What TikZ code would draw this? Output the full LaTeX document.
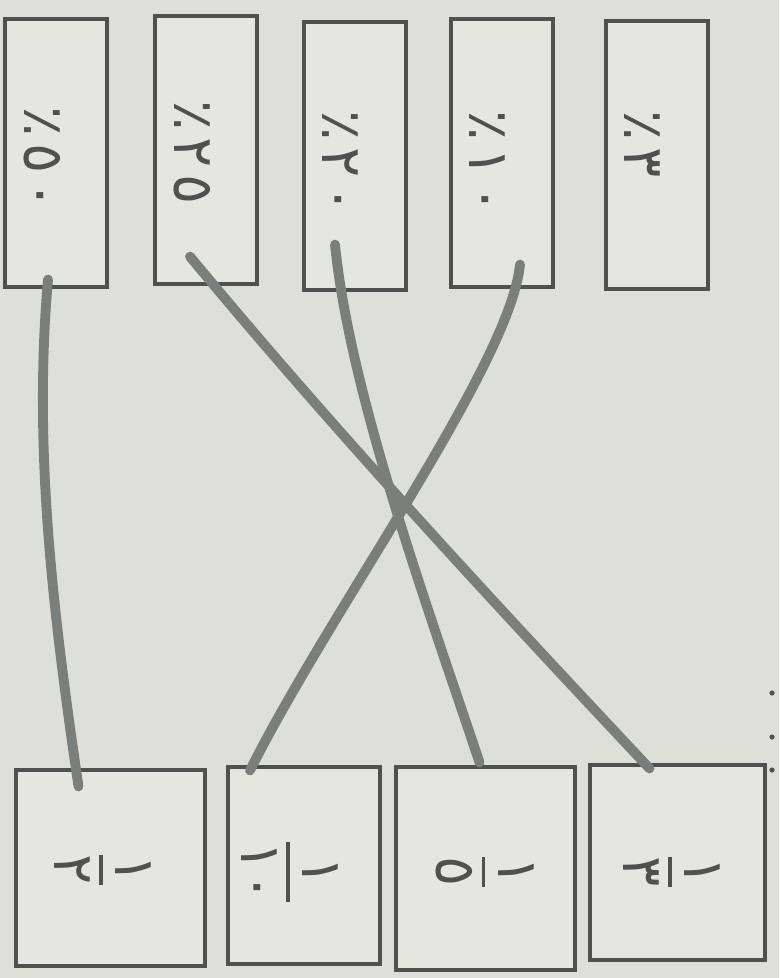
\documentclass[tikz,border=0pt]{standalone}
\usepackage{fontspec}
\newfontfamily\arabicfont[Script=Arabic]{DejaVu Sans}
\TeXXeTstate=1
\usetikzlibrary{calc}
\definecolor{paper}{RGB}{222,223,216}
\definecolor{boxfill}{RGB}{229,230,224}
\definecolor{ink}{RGB}{80,80,78}
\definecolor{pencil}{RGB}{122,127,124}
\newcommand{\vfrac}[2]{$\displaystyle{\mbox{\arabicfont #1}\above 2.2pt\mbox{\arabicfont #2}}$}
\tikzset{
  pct/.style={draw=ink, line width=2.2pt, fill=boxfill, minimum width=2.55cm, minimum height=6.7cm},
  frac/.style={draw=ink, line width=2.2pt, fill=boxfill},
  lbl/.style={text=ink, font=\arabicfont\fontsize{40}{44}\selectfont, rotate=-90, inner sep=0pt},
  link/.style={pencil, line width=7pt, line cap=round},
}
\begin{document}
\begin{tikzpicture}[x=0.025cm, y=-0.025cm]
    % Paper
    \fill[paper] (0,0) rectangle (779,978);
    \useasboundingbox (0,0) rectangle (779,978);
    % Percent boxes (top row)
    \node[pct] (ta) at (56,153) {}; \node[pct] (tb) at (206,150) {}; \node[pct] (tc) at (355,156) {};
    \node[pct] (td) at (502,153) {}; \node[pct] (te) at (657,155) {};
    % Percent labels, written sideways
    \node[lbl, anchor=west] (la) at (42,106) {\beginR\beginL ٥\kern5pt ٠\endL\kern5pt ٪\endR};
    \node[lbl, anchor=west] (lb) at (192,100) {\beginR\beginL ٢\kern5pt ٥\endL\kern5pt ٪\endR};
    \node[lbl, anchor=west] (lc) at (340,110) {\beginR\beginL ٢\kern5pt ٠\endL\kern5pt ٪\endR};
    \node[lbl, anchor=west] (ld) at (487,110) {\beginR\beginL ١\kern5pt ٠\endL\kern5pt ٪\endR};
    \node[lbl, anchor=west] (le) at (642,110) {\beginR\beginL ٣\endL\kern5pt ٪\endR};
    % Fraction boxes (bottom row)
    \node[frac, minimum width=4.725cm, minimum height=4.9cm] (ba) at (110.5,868) {};
    \node[frac, minimum width=3.8cm, minimum height=4.925cm] (bb) at (304,865.5) {};
    \node[frac, minimum width=4.475cm, minimum height=5.075cm] (bc) at (485.5,868.5) {};
    \node[frac, minimum width=4.375cm, minimum height=4.875cm] (bd) at (677.5,862.5) {};
    % Fractions, written sideways
    \node[lbl] (fa) at (103,870) {\vfrac{١}{٢}};
    \node[lbl] (fb) at (290,872) {\vfrac{١}{١٠}};
    \node[lbl] (fc) at (485,872) {\vfrac{١}{٥}};
    \node[lbl] (fd) at (672,872) {\vfrac{١}{٣}};
    % Pencil links
    \draw[link] ($(ta.south)+(-8,-9)$) .. controls +(-15,170) and +(-25,-170) .. ($(ba.north)+(-32,18)$);
    \draw[link] ($(tb.south)+(-16,-29)$) .. controls +(145,175) and +(-155,-165) .. ($(bd.north)+(-28,5)$);
    \draw[link] ($(tc.south)+(-20,-47)$) .. controls +(15,150) and +(-50,-150) .. ($(bc.north)+(-6,-3)$);
    \draw[link] ($(td.south)+(18,-24)$) .. controls +(-10,100) and +(80,-160) .. ($(bb.north)+(-54,5)$);
    % Marks at the right edge
    \node[circle, fill=ink, inner sep=0pt, minimum size=0.13cm] (ma) at (772,693) {};
    \node[circle, fill=ink, inner sep=0pt, minimum size=0.13cm] (mb) at (772,737) {};
    \node[circle, fill=ink, inner sep=0pt, minimum size=0.13cm] (mc) at (772,770) {};
\end{tikzpicture}
\end{document}
